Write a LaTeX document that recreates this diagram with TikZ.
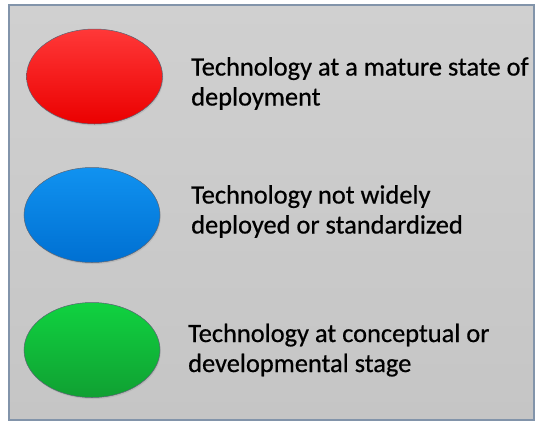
\documentclass[tikz,border=0pt]{standalone}
\usepackage{fontspec}
\setmainfont{Carlito}[FakeBold=0.6]
\usetikzlibrary{shapes.geometric,shadows}
\definecolor{boxline}{HTML}{8294AA}
\definecolor{bgtop}{HTML}{D0D0D0}
\definecolor{bgbot}{HTML}{C5C5C5}
\definecolor{ellline}{HTML}{5A6474}
\tikzset{
  blob/.style={ellipse, draw=ellline, line width=0.5bp, inner sep=0pt,
    minimum width=136bp, minimum height=95bp,
    drop shadow={opacity=0.22, shadow xshift=0.8bp, shadow yshift=-1.5bp}},
  label/.style={anchor=base west, inner sep=0pt, text=black,
    font=\fontsize{26.4bp}{30bp}\selectfont},
}
\begin{document}
\begin{tikzpicture}[x=1bp,y=-1bp]
\useasboundingbox (0,0) rectangle (538,422);
\fill[white] (0,0) rectangle (538,422);
\draw[boxline, line width=1.4bp, top color=bgtop, bottom color=bgbot] (9,5) rectangle (534,420);
\node[blob, top color=red!78!white, bottom color=red!92!black] (red) at (94.5,76.5) {};
\node[blob, top color={rgb,255:red,16;green,146;blue,240}, bottom color={rgb,255:red,0;green,112;blue,210}] (blue) at (92,215) {};
\node[blob, top color={rgb,255:red,16;green,210;blue,64}, bottom color={rgb,255:red,16;green,160;blue,50}] (green) at (92,350) {};
\node[label] (tred) at (191,75.5) {\begin{tabular}[t]{@{}l@{}}Technology at a mature state of\\deployment\end{tabular}};
\node[label] (tblue) at (191,203.5) {\begin{tabular}[t]{@{}l@{}}Technology not widely\\deployed or standardized\end{tabular}};
\node[label] (tgreen) at (188,342) {\begin{tabular}[t]{@{}l@{}}Technology at conceptual or\\developmental stage\end{tabular}};
\end{tikzpicture}
\end{document}
